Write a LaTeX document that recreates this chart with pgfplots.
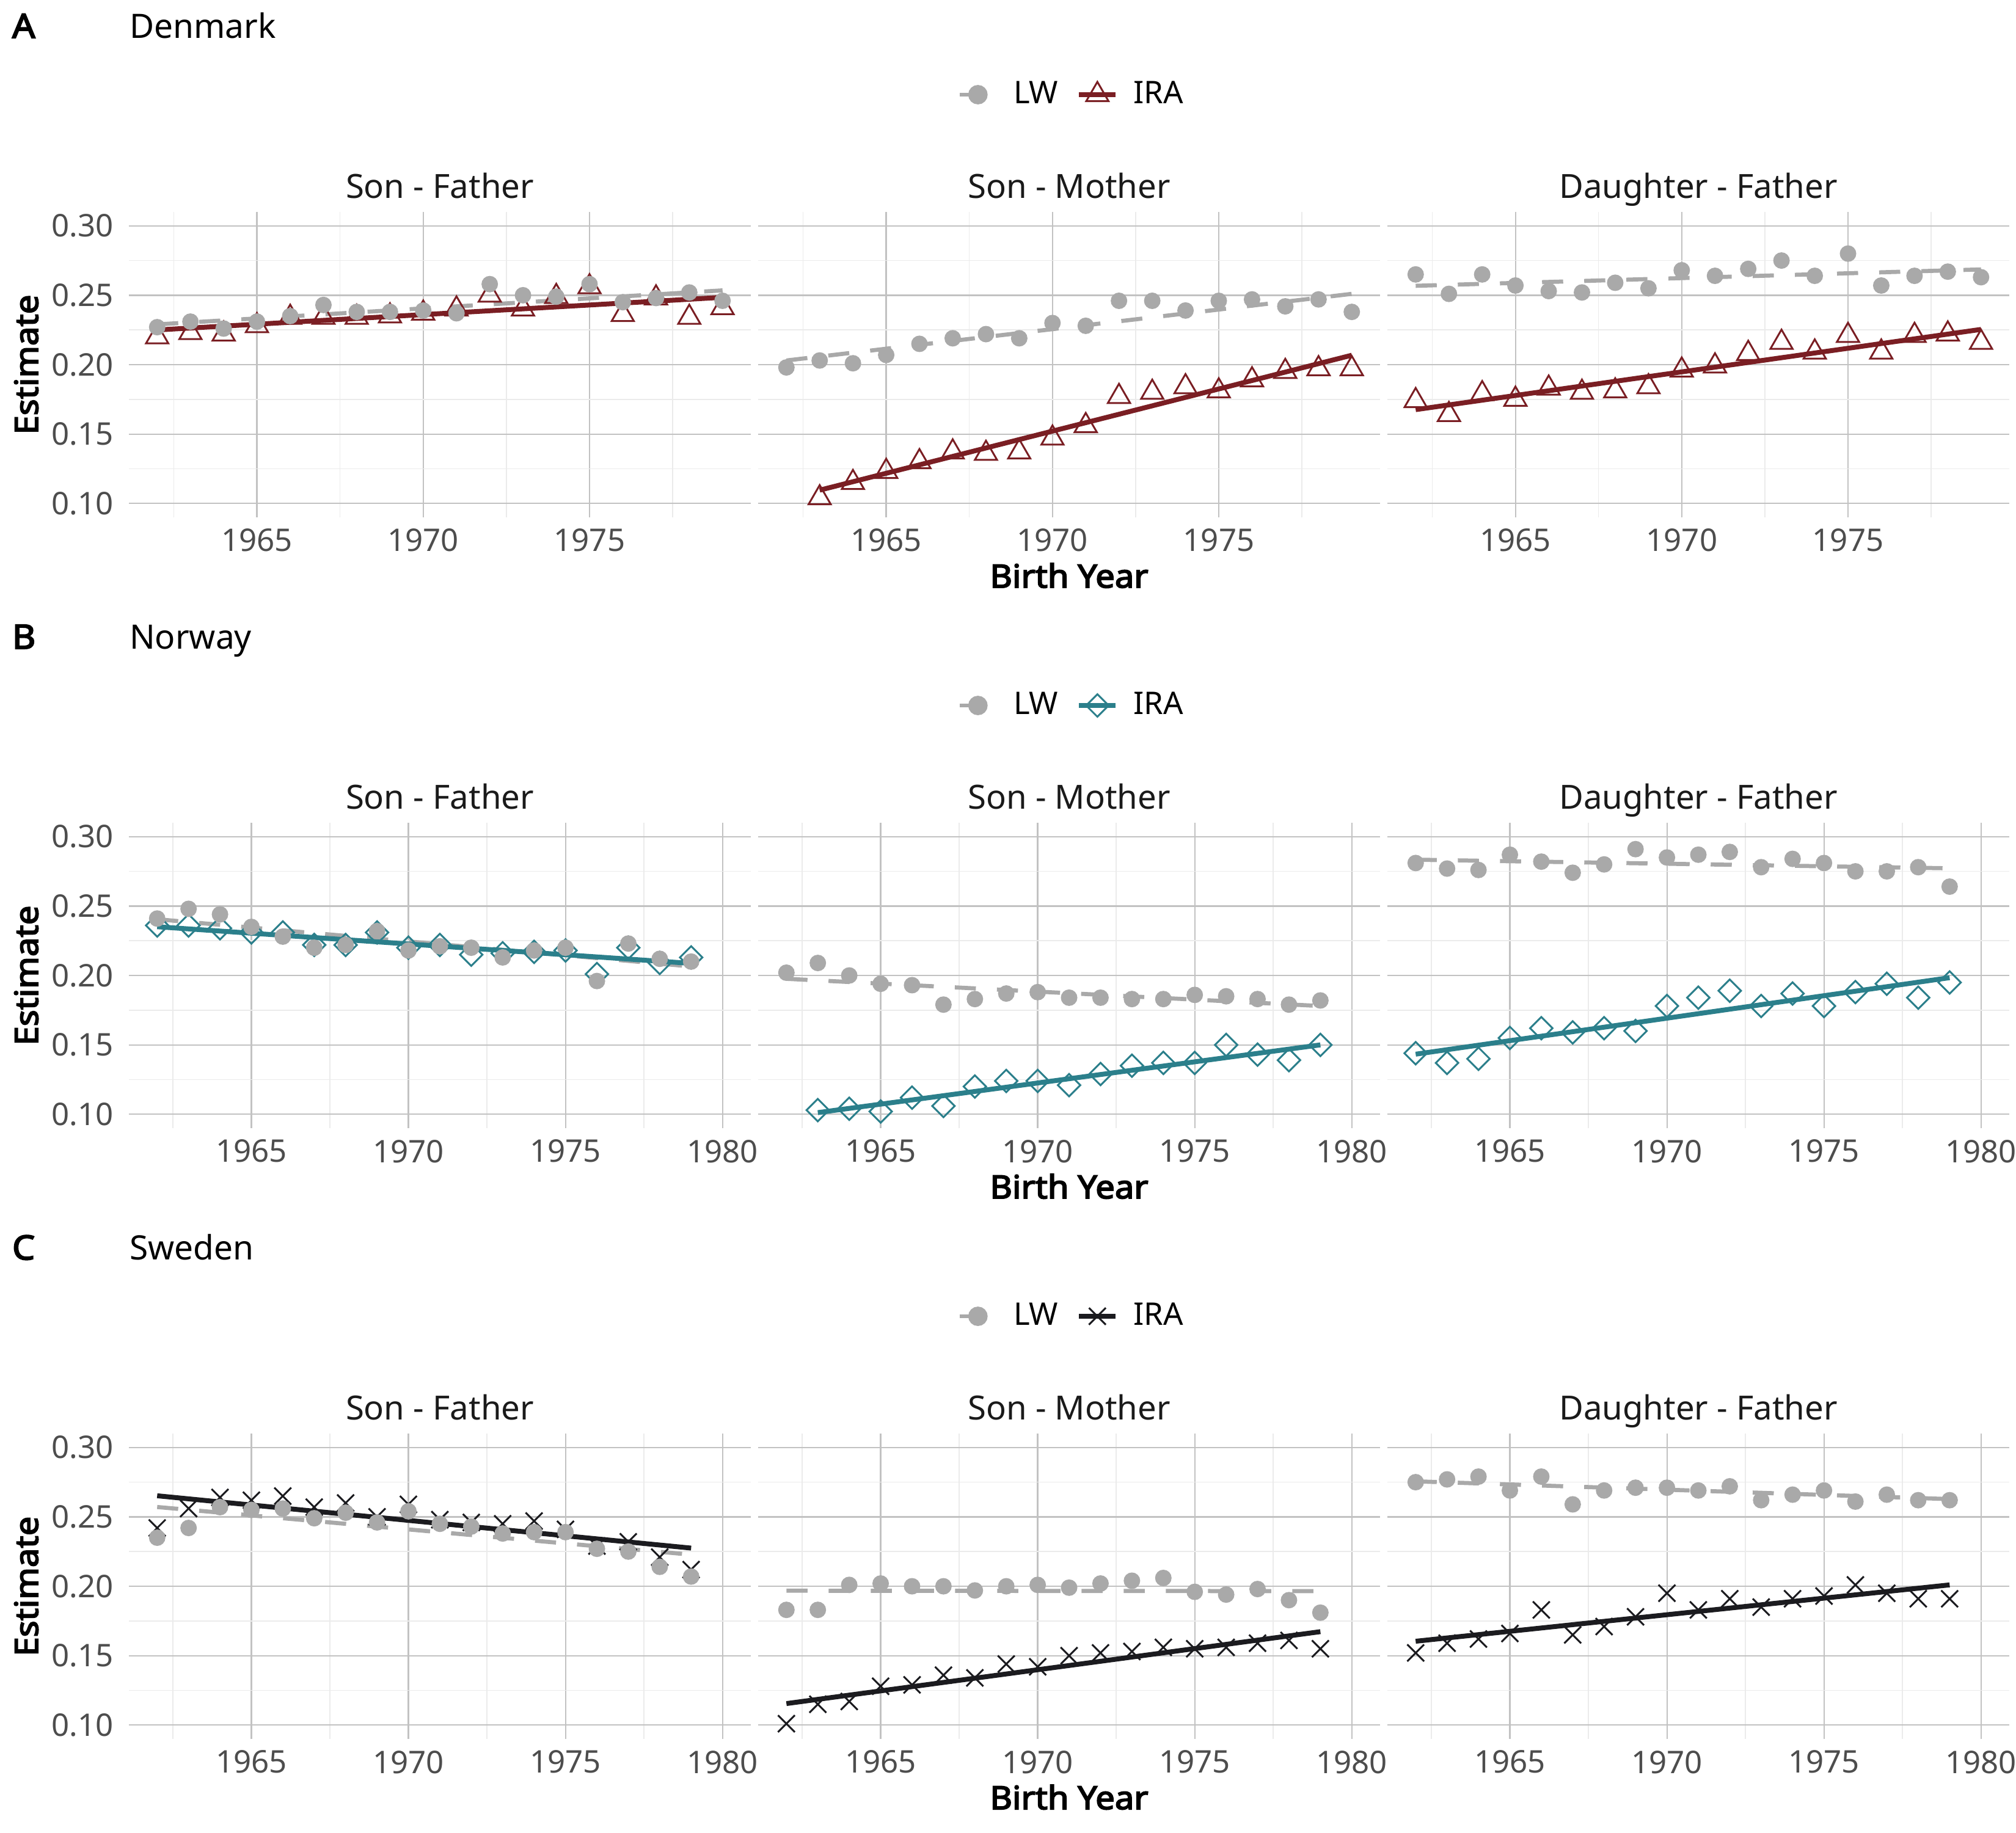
\documentclass[border=0pt]{standalone}
\usepackage{fontspec}
\setmainfont{Noto Sans}[BoldFont={Noto Sans}, BoldFeatures={FakeBold=3.6, FakeStretch=1.07}]
\usepackage{pgfplots}
\usepackage{pgfplotstable}
\pgfplotsset{compat=1.18}
\definecolor{lwgray}{HTML}{A9A9A9}
\definecolor{dkred}{HTML}{7A1E23}
\definecolor{noteal}{HTML}{2B7F8B}
\definecolor{seblack}{HTML}{1B1B1F}
\definecolor{gridmaj}{HTML}{C2C2C2}
\definecolor{gridmin}{HTML}{EBEBEB}
\definecolor{ticktext}{HTML}{4D4D4D}
\definecolor{striptext}{HTML}{1A1A1A}

% ---------------- data ----------------
\pgfplotstableread{
year lw ira
1962 0.227 0.220
1963 0.231 0.223
1964 0.226 0.222
1965 0.231 0.228
1966 0.235 0.234
1967 0.243 0.234
1968 0.238 0.234
1969 0.238 0.235
1970 0.239 0.237
1971 0.237 0.240
1972 0.258 0.250
1973 0.250 0.240
1974 0.249 0.249
1975 0.258 0.256
1976 0.245 0.236
1977 0.248 0.248
1978 0.252 0.234
1979 0.246 0.241
}\dksf
\pgfplotstableread{
year lw ira
1962 0.198 nan
1963 0.203 0.104
1964 0.201 0.115
1965 0.207 0.123
1966 0.215 0.130
1967 0.219 0.137
1968 0.222 0.136
1969 0.219 0.137
1970 0.230 0.147
1971 0.228 0.156
1972 0.246 0.177
1973 0.246 0.180
1974 0.239 0.184
1975 0.246 0.181
1976 0.247 0.189
1977 0.242 0.195
1978 0.247 0.197
1979 0.238 0.197
}\dksm
\pgfplotstableread{
year lw ira
1962 0.265 0.174
1963 0.251 0.164
1964 0.265 0.179
1965 0.257 0.175
1966 0.253 0.183
1967 0.252 0.180
1968 0.259 0.181
1969 0.255 0.184
1970 0.268 0.196
1971 0.264 0.199
1972 0.269 0.208
1973 0.275 0.216
1974 0.264 0.209
1975 0.280 0.221
1976 0.257 0.209
1977 0.264 0.221
1978 0.267 0.222
1979 0.263 0.216
}\dkdf
\pgfplotstableread{
year lw ira
1962 0.241 0.236
1963 0.248 0.236
1964 0.244 0.234
1965 0.235 0.231
1966 0.228 0.231
1967 0.220 0.222
1968 0.222 0.222
1969 0.232 0.231
1970 0.218 0.220
1971 0.221 0.222
1972 0.220 0.215
1973 0.213 0.216
1974 0.218 0.217
1975 0.220 0.218
1976 0.196 0.201
1977 0.223 0.220
1978 0.212 0.209
1979 0.210 0.213
}\nosf
\pgfplotstableread{
year lw ira
1962 0.202 nan
1963 0.209 0.103
1964 0.200 0.104
1965 0.194 0.102
1966 0.193 0.112
1967 0.179 0.106
1968 0.183 0.120
1969 0.187 0.124
1970 0.188 0.124
1971 0.184 0.121
1972 0.184 0.129
1973 0.183 0.135
1974 0.183 0.137
1975 0.186 0.137
1976 0.185 0.150
1977 0.183 0.143
1978 0.179 0.139
1979 0.182 0.150
}\nosm
\pgfplotstableread{
year lw ira
1962 0.281 0.144
1963 0.277 0.137
1964 0.276 0.140
1965 0.287 0.155
1966 0.282 0.162
1967 0.274 0.159
1968 0.280 0.162
1969 0.291 0.160
1970 0.285 0.178
1971 0.287 0.184
1972 0.289 0.189
1973 0.278 0.178
1974 0.284 0.187
1975 0.281 0.178
1976 0.275 0.188
1977 0.275 0.194
1978 0.278 0.184
1979 0.264 0.195
}\nodf
\pgfplotstableread{
year lw ira
1962 0.235 0.242
1963 0.242 0.256
1964 0.257 0.264
1965 0.255 0.262
1966 0.256 0.265
1967 0.249 0.257
1968 0.253 0.260
1969 0.246 0.250
1970 0.254 0.259
1971 0.245 0.248
1972 0.243 0.246
1973 0.238 0.245
1974 0.239 0.247
1975 0.239 0.241
1976 0.227 0.229
1977 0.225 0.232
1978 0.214 0.221
1979 0.207 0.212
}\sesf
\pgfplotstableread{
year lw ira
1962 0.183 0.101
1963 0.183 0.115
1964 0.201 0.117
1965 0.202 0.128
1966 0.200 0.129
1967 0.200 0.136
1968 0.197 0.134
1969 0.200 0.144
1970 0.201 0.142
1971 0.199 0.150
1972 0.202 0.152
1973 0.204 0.153
1974 0.206 0.156
1975 0.196 0.155
1976 0.194 0.156
1977 0.198 0.159
1978 0.190 0.161
1979 0.181 0.155
}\sesm
\pgfplotstableread{
year lw ira
1962 0.275 0.152
1963 0.277 0.159
1964 0.279 0.162
1965 0.269 0.166
1966 0.279 0.183
1967 0.259 0.165
1968 0.269 0.171
1969 0.271 0.178
1970 0.271 0.195
1971 0.269 0.183
1972 0.272 0.191
1973 0.262 0.185
1974 0.266 0.191
1975 0.269 0.193
1976 0.261 0.201
1977 0.266 0.195
1978 0.262 0.191
1979 0.262 0.191
}\sedf

\pgfplotsset{
  panel/.style={
    scale only axis, width=203.6pt, height=100pt,
    ymin=0.09, ymax=0.31,
    axis line style={draw=none},
    major tick length=0pt, minor tick length=0pt,
    grid=both,
    major grid style={color=gridmaj, line width=0.45pt},
    minor grid style={color=gridmin, line width=0.3pt},
    ytick={0.10,0.15,0.20,0.25,0.30},
    minor ytick={0.125,0.175,0.225,0.275},
    minor xtick={1962.5,1967.5,1972.5,1977.5},
    yticklabels={},
    tick label style={font=\fontsize{10.2}{12}\selectfont, text=ticktext},
    xticklabel style={anchor=north, inner sep=0pt, yshift=-3.6pt},
    yticklabel style={anchor=east, inner sep=0pt, xshift=-4.8pt},
    clip=false,
  },
  rowA/.style={xmin=1961.15, xmax=1979.85, xtick={1965,1970,1975}, xticklabels={1965,1970,1975}},
  rowBC/.style={xmin=1961.1, xmax=1980.9, xtick={1965,1970,1975,1980}, xticklabels={1965,1970,1975,1980}},
  firstcol/.style={yticklabels={0.10,0.15,0.20,0.25,0.30}},
  lwpts/.style={only marks, mark=*, mark size=2.5pt, color=lwgray, forget plot},
  lwline/.style={no marks, color=lwgray, line width=1.35pt, dash pattern=on 6.9pt off 6.9pt, forget plot},
  dkpts/.style={only marks, mark=triangle, mark size=4.2pt, color=dkred, mark options={line width=0.6pt}, forget plot},
  nopts/.style={only marks, mark=square, mark size=2.6pt, color=noteal, mark options={rotate=45, line width=0.6pt}, forget plot},
  septs/.style={only marks, mark=x, mark size=3.9pt, color=seblack, mark options={line width=0.6pt}, forget plot},
  iraline/.style={no marks, color=#1, line width=1.6pt, forget plot},
  toplegend/.style={
    legend style={at={(0.507,1.384)}, anchor=center, draw=none, fill=none,
      legend columns=-1, font=\fontsize{10.2}{12}\selectfont,
      /tikz/every even column/.append style={column sep=4pt}},
    legend image code/.code={
      \draw[##1, mark=none] (0pt,0pt) -- (12pt,0pt);
      \draw[##1] plot coordinates {(6pt,0pt)};
      \path (15pt,0pt);
    },
  },
}

\begin{document}
\begin{tikzpicture}
\path[use as bounding box] (0pt,0pt) rectangle (660pt,-600pt);

% ================= Row A: Denmark =================
\begin{axis}[panel, rowA, firstcol, at={(42.2pt,-169.4pt)}, anchor=south west]
\addplot[dkpts] table[x=year,y=ira]{\dksf};
\addplot[lwpts] table[x=year,y=lw]{\dksf};
\addplot[lwline] coordinates {(1962,0.229) (1979,0.2535)};
\addplot[iraline=dkred] coordinates {(1962,0.225) (1979,0.2485)};
\end{axis}
\begin{axis}[panel, rowA, toplegend, at={(248.2pt,-169.4pt)}, anchor=south west]
\addplot[dkpts] table[x=year,y=ira]{\dksm};
\addplot[lwpts] table[x=year,y=lw]{\dksm};
\addplot[lwline] coordinates {(1962,0.203) (1979,0.251)};
\addplot[iraline=dkred] coordinates {(1963,0.1096) (1979,0.2068)};
\addlegendimage{lwgray, line width=1.35pt, dash pattern=on 6.9pt off 6.9pt, mark=*, mark size=2.5pt, mark options={solid}}
\addlegendentry{LW}
\addlegendimage{dkred, line width=1.6pt, mark=triangle, mark size=4.2pt, mark options={solid, line width=0.6pt}}
\addlegendentry{IRA}
\end{axis}
\begin{axis}[panel, rowA, at={(454.2pt,-169.4pt)}, anchor=south west]
\addplot[dkpts] table[x=year,y=ira]{\dkdf};
\addplot[lwpts] table[x=year,y=lw]{\dkdf};
\addplot[lwline] coordinates {(1962,0.2568) (1979,0.2686)};
\addplot[iraline=dkred] coordinates {(1962,0.1676) (1979,0.2254)};
\end{axis}

% ================= Row B: Norway =================
\begin{axis}[panel, rowBC, firstcol, at={(42.2pt,-369.4pt)}, anchor=south west]
\addplot[nopts] table[x=year,y=ira]{\nosf};
\addplot[lwpts] table[x=year,y=lw]{\nosf};
\addplot[lwline] coordinates {(1962,0.2405) (1979,0.2065)};
\addplot[iraline=noteal] coordinates {(1962,0.2351) (1979,0.2087)};
\end{axis}
\begin{axis}[panel, rowBC, toplegend, at={(248.2pt,-369.4pt)}, anchor=south west]
\addplot[nopts] table[x=year,y=ira]{\nosm};
\addplot[lwpts] table[x=year,y=lw]{\nosm};
\addplot[lwline] coordinates {(1962,0.1976) (1979,0.178)};
\addplot[iraline=noteal] coordinates {(1963,0.1012) (1979,0.150)};
\addlegendimage{lwgray, line width=1.35pt, dash pattern=on 6.9pt off 6.9pt, mark=*, mark size=2.5pt, mark options={solid}}
\addlegendentry{LW}
\addlegendimage{noteal, line width=1.6pt, mark=square, mark size=2.6pt, mark options={solid, rotate=45, line width=0.6pt}}
\addlegendentry{IRA}
\end{axis}
\begin{axis}[panel, rowBC, at={(454.2pt,-369.4pt)}, anchor=south west]
\addplot[nopts] table[x=year,y=ira]{\nodf};
\addplot[lwpts] table[x=year,y=lw]{\nodf};
\addplot[lwline] coordinates {(1962,0.2834) (1979,0.2772)};
\addplot[iraline=noteal] coordinates {(1962,0.1433) (1979,0.1984)};
\end{axis}

% ================= Row C: Sweden =================
\begin{axis}[panel, rowBC, firstcol, at={(42.2pt,-569.4pt)}, anchor=south west]
\addplot[septs] table[x=year,y=ira]{\sesf};
\addplot[lwpts] table[x=year,y=lw]{\sesf};
\addplot[lwline] coordinates {(1962,0.2571) (1979,0.2228)};
\addplot[iraline=seblack] coordinates {(1962,0.2652) (1979,0.2275)};
\end{axis}
\begin{axis}[panel, rowBC, toplegend, at={(248.2pt,-569.4pt)}, anchor=south west]
\addplot[septs] table[x=year,y=ira]{\sesm};
\addplot[lwpts] table[x=year,y=lw]{\sesm};
\addplot[lwline] coordinates {(1962,0.1968) (1979,0.1965)};
\addplot[iraline=seblack] coordinates {(1962,0.1155) (1979,0.1673)};
\addlegendimage{lwgray, line width=1.35pt, dash pattern=on 6.9pt off 6.9pt, mark=*, mark size=2.5pt, mark options={solid}}
\addlegendentry{LW}
\addlegendimage{seblack, line width=1.6pt, mark=x, mark size=3.9pt, mark options={solid, line width=0.6pt}}
\addlegendentry{IRA}
\end{axis}
\begin{axis}[panel, rowBC, at={(454.2pt,-569.4pt)}, anchor=south west]
\addplot[septs] table[x=year,y=ira]{\sedf};
\addplot[lwpts] table[x=year,y=lw]{\sedf};
\addplot[lwline] coordinates {(1962,0.2756) (1979,0.2628)};
\addplot[iraline=seblack] coordinates {(1962,0.1604) (1979,0.201)};
\end{axis}

% ================= texts =================
\foreach \r/\L/\T in {0/A/Denmark, 1/B/Norway, 2/C/Sweden}{
  \pgfmathsetmacro{\dy}{-200*\r}
  \node[anchor=base west, inner sep=0pt, font=\fontsize{11}{13}\selectfont\bfseries] at (3.8pt,\dy pt-12.4pt) {\L};
  \node[anchor=base west, inner sep=0pt, font=\fontsize{11}{13}\selectfont] at (42.2pt,\dy pt-12.4pt) {\T};
  \node[anchor=base, inner sep=0pt, text=striptext, font=\fontsize{10.9}{13}\selectfont] at (144pt,\dy pt-64.8pt) {Son - Father};
  \node[anchor=base, inner sep=0pt, text=striptext, font=\fontsize{10.9}{13}\selectfont] at (350pt,\dy pt-64.8pt) {Son - Mother};
  \node[anchor=base, inner sep=0pt, text=striptext, font=\fontsize{10.9}{13}\selectfont] at (556pt,\dy pt-64.8pt) {Daughter - Father};
  \node[anchor=base, inner sep=0pt, font=\fontsize{10.5}{13}\selectfont\bfseries] at (350pt,\dy pt-192.4pt) {Birth Year};
  \node[anchor=center, inner sep=0pt, rotate=90, font=\fontsize{10.5}{13}\selectfont\bfseries] at (8.6pt,\dy pt-119.4pt) {Estimate};
}
\end{tikzpicture}
\end{document}
